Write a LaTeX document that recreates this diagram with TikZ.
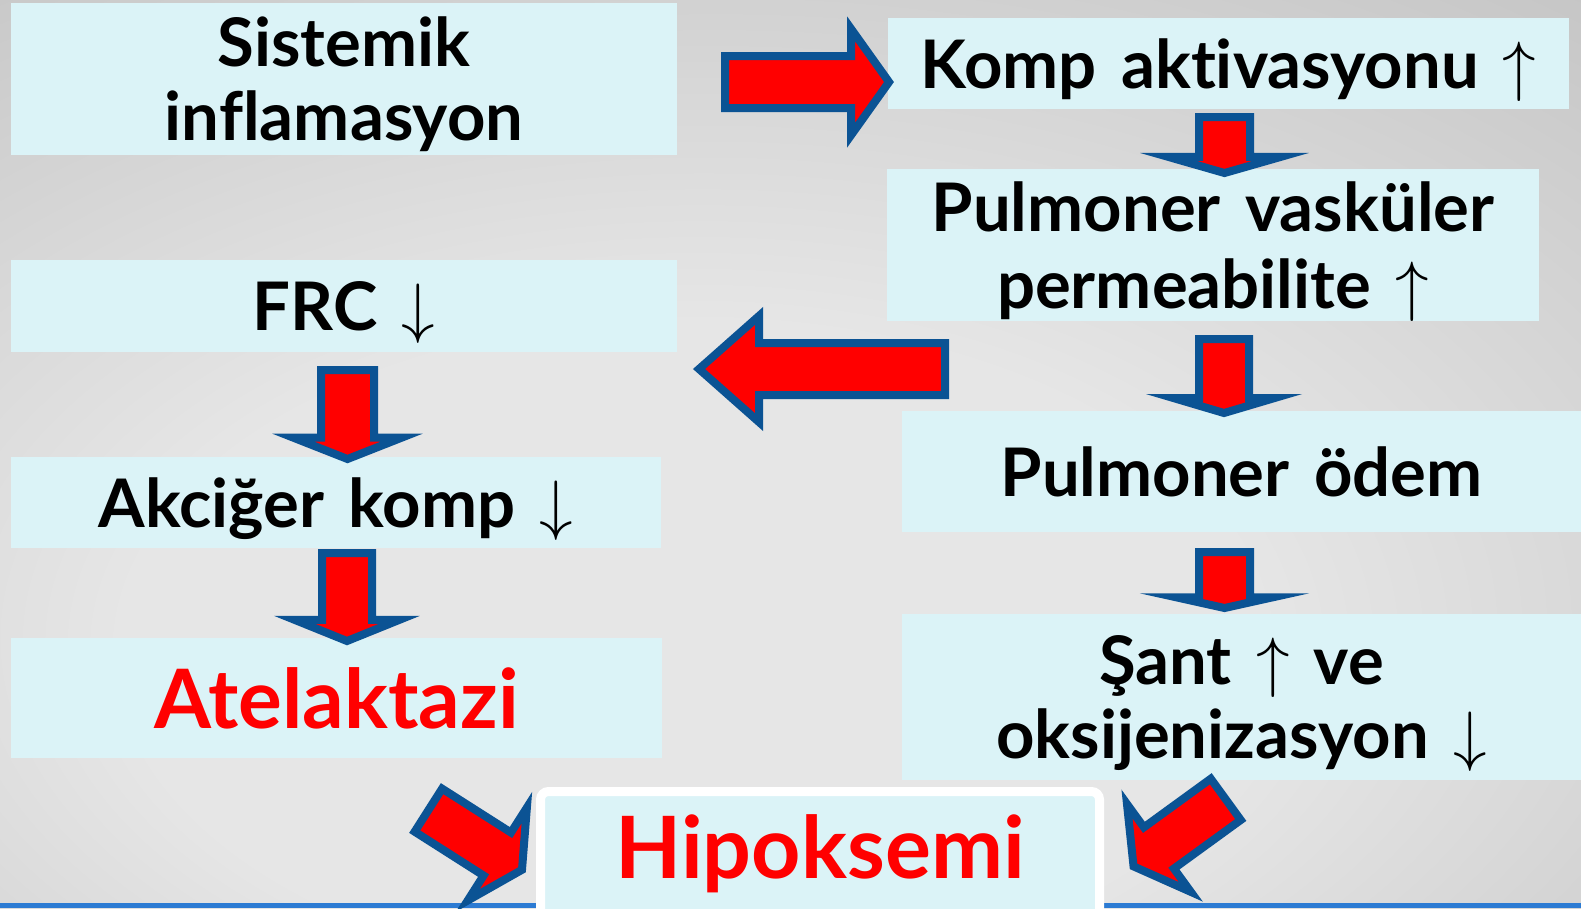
\documentclass[tikz,border=0pt]{standalone}
\usepackage{fix-cm}
\usepackage{fontspec}
\setmainfont{Lato}[WordSpace=1.5,Ligatures=NoCommon]
\usetikzlibrary{shapes.arrows}

\definecolor{boxcyan}{HTML}{DBF3F7}
\definecolor{arrowred}{HTML}{FF0000}
\definecolor{arrowblue}{HTML}{0B5394}
\definecolor{stripblue}{HTML}{2C7BD3}
\definecolor{bglight}{HTML}{E6E6E6}
\definecolor{bgdark}{HTML}{ABABAB}

\pgfdeclareradialshading{slidebg}{\pgfpoint{-4bp}{-14bp}}{color(0bp)=(bglight); color(18bp)=(bglight); color(62bp)=(bgdark); color(80bp)=(bgdark)}

\tikzset{
  cell/.style={fill=boxcyan, inner sep=0pt, text depth=0pt, align=center, font=\fontsize{67}{74}\selectfont\bfseries},
  blk/.style={single arrow, fill=arrowred, draw=arrowblue, line width=8pt, miter limit=20, inner xsep=0pt, anchor=tail},
}

\begin{document}
\begin{tikzpicture}[x=1pt,y=-1pt]
\useasboundingbox (0,0) rectangle (1581,908);
\shade[shading=slidebg] (0,0) rectangle (1581,908);
\fill[stripblue] (0,903) rectangle (1581,908);

% left column
\node[cell, minimum width=666, minimum height=152] (sis) at (344,79) {Sistemik\\inflamasyon};
\node[cell, minimum width=666, minimum height=92] (frc) at (344,306) {FRC $\downarrow$};
\node[cell, minimum width=650, minimum height=91] (akc) at (336,502.5) {Akciğer komp $\downarrow$};
\node[cell, minimum width=651, minimum height=120, text=arrowred, font=\fontsize{82}{86}\selectfont\bfseries] (atel) at (336.5,698) {Atelaktazi};

% right column
\node[cell, minimum width=681, minimum height=91] (komp) at (1228.5,63.5) {Komp aktivasyonu $\uparrow$};
\node[cell, minimum width=652, minimum height=152, font=\fontsize{67}{77}\selectfont\bfseries] (pvp) at (1213,245) {Pulmoner vasküler\\permeabilite $\uparrow$};
\node[cell, minimum width=679, minimum height=121] (odem) at (1241.5,471.5) {Pulmoner ödem};
\node[cell, minimum width=679, minimum height=166] (sant) at (1241.5,697) {Şant $\uparrow$ ve\\oksijenizasyon $\downarrow$};

% bottom
\node[fill=boxcyan, draw=white, line width=9pt, rounded corners=8pt, minimum width=559, minimum height=138.5] (hbox) at (820,860.75) {};
\node[text=arrowred, font=\fontsize{86}{90}\selectfont\bfseries] (hipo) at (820,854) {Hipoksemi};

% block arrows
\node[blk, rotate=0, inner ysep=22, minimum height=164, single arrow head extend=27, single arrow tip angle=109] (a1) at (721,82) {};
\node[blk, rotate=-90, inner ysep=21.5, minimum height=56, single arrow head extend=30.4, single arrow tip angle=148] (a2) at (1224.5,113) {};
\node[blk, rotate=-90, inner ysep=21, minimum height=74, single arrow head extend=25.4, single arrow tip angle=147] (a3) at (1224,335) {};
\node[blk, rotate=-90, inner ysep=21.5, minimum height=56, single arrow head extend=22.5, single arrow tip angle=155] (a4) at (1224.5,548) {};
\node[blk, rotate=180, inner ysep=22, minimum height=246, single arrow head extend=27.2, single arrow tip angle=83] (a5) at (949,369) {};
\node[blk, rotate=-90, inner ysep=22.5, minimum height=89, single arrow head extend=27.5, single arrow tip angle=137] (a6) at (347.5,366) {};
\node[blk, rotate=-90, inner ysep=21, minimum height=88, single arrow head extend=27.4, single arrow tip angle=136] (a7) at (347,549) {};
\node[blk, rotate=-32.5, inner ysep=21.5, minimum height=111, single arrow head extend=29.6, single arrow tip angle=124] (a8) at (425,808) {};
\node[blk, rotate=-144, inner ysep=21.5, minimum height=114, single arrow head extend=28.8, single arrow tip angle=120] (a9) at (1229,797) {};
\end{tikzpicture}
\end{document}
